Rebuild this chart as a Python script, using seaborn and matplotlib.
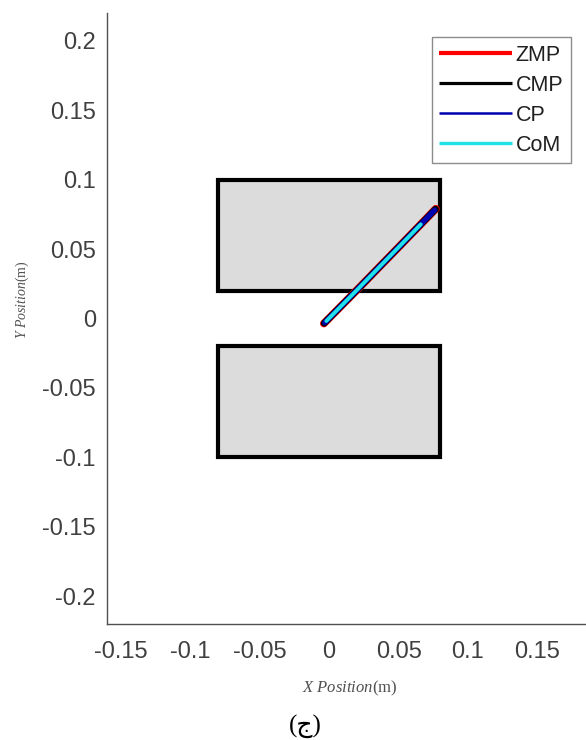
import matplotlib
matplotlib.use("Agg")
import matplotlib.pyplot as plt
import matplotlib.patches as mpatches
import seaborn as sns
import pandas as pd

# Foot support regions: (x_min, y_min, width, height)
feet_names = ["left", "right"]
feet_x = [-0.08, -0.08]
feet_y = [0.02, -0.10]
feet_w = [0.16, 0.16]
feet_h = [0.08, 0.08]

# Trajectories (m)
zmp_x = [-0.0038, 0.0200, 0.0450, 0.0650, 0.0768]
zmp_y = [-0.0036, 0.0205, 0.0462, 0.0668, 0.0790]
cmp_x = [-0.0036, 0.0200, 0.0450, 0.0650, 0.0766]
cmp_y = [-0.0034, 0.0205, 0.0462, 0.0668, 0.0788]
cp_x = [-0.0032, 0.0200, 0.0450, 0.0650, 0.0760]
cp_y = [-0.0030, 0.0205, 0.0462, 0.0668, 0.0781]
com_x = [-0.0020, 0.0200, 0.0450, 0.0600, 0.0660]
com_y = [-0.0018, 0.0205, 0.0462, 0.0616, 0.0678]

series = ["ZMP", "CMP", "CP", "CoM"]
colors = ["#ff0000", "#000000", "#0000b0", "#20e0e8"]
widths = [5.6, 4.8, 3.8, 2.8]
legend_widths = [3.0, 2.3, 1.8, 2.4]

x_ticks = [-0.15, -0.1, -0.05, 0, 0.05, 0.1, 0.15]
y_ticks = [-0.2, -0.15, -0.1, -0.05, 0, 0.05, 0.1, 0.15, 0.2]

frames = []
for name, xs, ys in zip(series, [zmp_x, cmp_x, cp_x, com_x], [zmp_y, cmp_y, cp_y, com_y]):
    frames.append(pd.DataFrame({"x": xs, "y": ys, "series": name, "order": range(len(xs))}))
traj = pd.concat(frames, ignore_index=True)

sns.set_theme(style="white")
plt.rcParams["font.family"] = ["Liberation Sans", "DejaVu Sans"]
plt.rcParams["mathtext.fontset"] = "custom"
plt.rcParams["mathtext.it"] = "Liberation Serif:italic"
plt.rcParams["mathtext.rm"] = "Liberation Serif"

W, H = 586, 740
fig = plt.figure(figsize=(W / 100, H / 100), dpi=100)
ax = fig.add_axes([107 / W, (H - 624) / H, 479 / W, 611 / H])

for fx, fy, fw, fh in zip(feet_x, feet_y, feet_w, feet_h):
    ax.add_patch(mpatches.Rectangle((fx, fy), fw, fh, facecolor="#dcdcdc",
                                    edgecolor="black", linewidth=3.0, zorder=1))

for name, col, lw in zip(series, colors, widths):
    sub = traj[traj["series"] == name]
    sns.lineplot(data=sub, x="x", y="y", sort=False, color=col, linewidth=lw,
                 solid_capstyle="round", label=name, ax=ax, zorder=3, estimator=None)

ax.set_xlim(-0.16, 0.185)
ax.set_ylim(-0.22, 0.22)
ax.set_xticks(x_ticks)
ax.set_xticklabels([f"{t:g}" for t in x_ticks])
ax.set_yticks(y_ticks)
ax.set_yticklabels([f"{t:g}" for t in y_ticks])

axis_col = "#505050"
for side in ["top", "right"]:
    ax.spines[side].set_visible(False)
for side in ["left", "bottom"]:
    ax.spines[side].set_color(axis_col)
    ax.spines[side].set_linewidth(1.0)
ax.tick_params(direction="in", length=5, width=1.0, color=axis_col,
               labelsize=17, labelcolor="#404040", pad=8)
ax.tick_params(axis="x", pad=12)

ax.set_xlabel("")
ax.set_ylabel("")

leg = ax.legend(loc="upper right", bbox_to_anchor=(571 / W, 1 - 37 / H),
                bbox_transform=fig.transFigure, borderaxespad=0, fontsize=15.5,
                frameon=True, fancybox=False, edgecolor="#707070",
                handlelength=3.35, handletextpad=0.2, labelspacing=0.42,
                borderpad=0.35)
leg.get_frame().set_linewidth(1.0)
for line, lw in zip(leg.get_lines(), legend_widths):
    line.set_linewidth(lw)
    line.set_solid_capstyle("butt")
for t in leg.get_texts():
    t.set_color("#202020")

fig.text(350 / W, 1 - 688 / H, r"$\mathit{X\ Position}\mathrm{(m)}$",
         ha="center", va="center", fontsize=12, color="#505050")
fig.text(22 / W, 1 - 300 / H, r"$\mathit{Y\ Position}\mathrm{(m)}$",
         ha="center", va="center", fontsize=10, color="#505050", rotation=90)
fig.text(305 / W, 1 - 726 / H, "(ج)", ha="center", va="center", fontsize=18,
         color="black", family=["Liberation Serif", "DejaVu Sans"])

fig.savefig("out.png", dpi=100)
